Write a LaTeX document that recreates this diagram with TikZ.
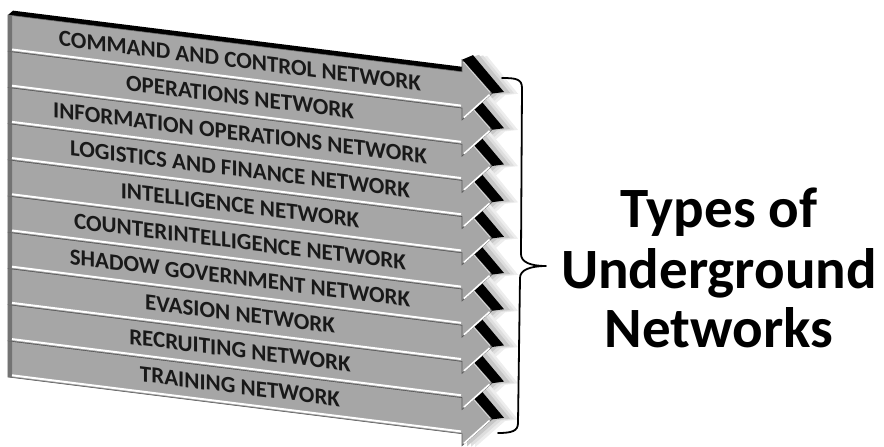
\documentclass[tikz,border=0pt]{standalone}
\usepackage{fontspec}
\setmainfont{Carlito}
\definecolor{bandgray}{RGB}{166,166,166}
\tikzset{
  band/.style={fill=bandgray, draw=black!65, line width=0.6pt, line join=miter},
  ridge/.style={draw=white, line width=2pt},
  leftedge/.style={fill=black!55},
  headext/.style={fill=black},
  bandtext/.style={font=\fontsize{23}{26}\selectfont\bfseries, transform shape, inner sep=0pt, text=black!90},
  bigtext/.style={font=\fontsize{57}{60}\selectfont\bfseries, anchor=base, inner sep=0pt},
  brace/.style={draw=black, line width=1.8pt, line cap=round, line join=round}
}
\begin{document}
\begin{tikzpicture}[x=1pt,y=-1pt]
\useasboundingbox (0,0) rectangle (884,447);
\begin{scope}[yslant=-0.125]
  % soft shadows right of the heads
  \foreach \i in {0,...,9}{
    \pgfmathsetmacro\v{14+36.2*\i}
    \foreach \s/\g in {13/7,9/13,5/22}{
      \fill[black!\g] (462+\s,\v-14) -- (474+\s,\v-19) -- (505+\s,\v+15) -- (492+\s,\v+18.1) -- (462+\s,\v+48.2) -- cycle;
    }
  }
  % black top edge of the first band
  \fill[headext] (8,14) -- (13,9) -- (462,9) -- (462,14) -- cycle;
  % bands, bottom first
  \foreach \i/\lab in {9/TRAINING NETWORK, 8/RECRUITING NETWORK, 7/EVASION NETWORK,
      6/SHADOW GOVERNMENT NETWORK, 5/COUNTERINTELLIGENCE NETWORK, 4/INTELLIGENCE NETWORK,
      3/LOGISTICS AND FINANCE NETWORK, 2/INFORMATION OPERATIONS NETWORK,
      1/OPERATIONS NETWORK, 0/COMMAND AND CONTROL NETWORK}{
    \pgfmathsetmacro\v{14+36.2*\i}
    \fill[headext] (462,\v-12) -- (473,\v-18) -- (504,\v+15) -- (492,\v+18.1) -- cycle;
    \draw[band] (8,\v) -- (462,\v) -- (462,\v-12) -- (492,\v+18.1) -- (462,\v+48.2) -- (462,\v+36.2) -- (8,\v+36.2) -- cycle;
    \draw[draw=white!85!black, line width=0.9pt] (463.5,\v-10) -- (490,\v+17);
    \fill[leftedge] (8,\v) rectangle (12,\v+36.2);
    \draw[ridge] (12,\v+34) -- (461,\v+34);
    \draw[ridge, line width=1.6pt] (489.5,\v+19.5) -- (464,\v+45.5);
    \node[bandtext] (t\i) at (240,\v+16.8) {\lab};
  }
\end{scope}
% title
\node[bigtext] (title1) at (719,227) {Types of};
\node[bigtext] (title2) at (719,288) {Underground};
\node[bigtext] (title3) at (719,347) {Networks};
% brace
\draw[brace] (502,78) .. controls (516,78) and (522,79) .. (522,88)
  -- (521,254) .. controls (521,262) and (530,266) .. (546,266)
  .. controls (530,266) and (520,270) .. (520,278)
  -- (518,423) .. controls (518,431) and (512,433) .. (498,433);
\end{tikzpicture}
\end{document}
